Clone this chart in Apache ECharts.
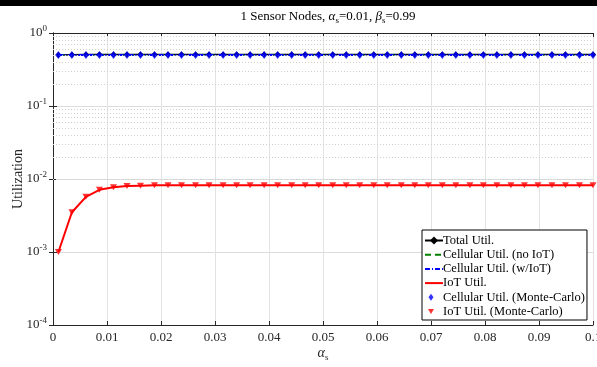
<!DOCTYPE html>
<html>
<head>
<meta charset="utf-8">
<script src="https://cdn.jsdelivr.net/npm/echarts@6/dist/echarts.min.js"></script>
<style>
  html, body { margin: 0; padding: 0; background: #fff; }
  #chart { width: 597px; height: 367px; }
</style>
</head>
<body>
<div id="chart"></div>
<script>
// alpha_s sample points (40 points from 0.001 to 0.1)
var alphaS = [0.0010, 0.0035, 0.0061, 0.0086, 0.0112, 0.0137, 0.0162, 0.0188, 0.0213, 0.0238,
              0.0264, 0.0289, 0.0315, 0.0340, 0.0365, 0.0391, 0.0416, 0.0442, 0.0467, 0.0492,
              0.0518, 0.0543, 0.0568, 0.0594, 0.0619, 0.0645, 0.0670, 0.0695, 0.0721, 0.0746,
              0.0772, 0.0797, 0.0822, 0.0848, 0.0873, 0.0898, 0.0924, 0.0949, 0.0975, 0.1000];
var iotUtil = [0.0010, 0.0035, 0.0057, 0.0071, 0.0077, 0.0080, 0.0081, 0.0082, 0.0082, 0.0082,
               0.0082, 0.0082, 0.0082, 0.0082, 0.0082, 0.0082, 0.0082, 0.0082, 0.0082, 0.0082,
               0.0082, 0.0082, 0.0082, 0.0082, 0.0082, 0.0082, 0.0082, 0.0082, 0.0082, 0.0082,
               0.0082, 0.0082, 0.0082, 0.0082, 0.0082, 0.0082, 0.0082, 0.0082, 0.0082, 0.0082];
var cellUtil = [0.50, 0.50, 0.50, 0.50, 0.50, 0.50, 0.50, 0.50, 0.50, 0.50,
                0.50, 0.50, 0.50, 0.50, 0.50, 0.50, 0.50, 0.50, 0.50, 0.50,
                0.50, 0.50, 0.50, 0.50, 0.50, 0.50, 0.50, 0.50, 0.50, 0.50,
                0.50, 0.50, 0.50, 0.50, 0.50, 0.50, 0.50, 0.50, 0.50, 0.50];
var totalUtil = [0.501, 0.504, 0.506, 0.507, 0.508, 0.508, 0.508, 0.508, 0.508, 0.508,
                 0.508, 0.508, 0.508, 0.508, 0.508, 0.508, 0.508, 0.508, 0.508, 0.508,
                 0.508, 0.508, 0.508, 0.508, 0.508, 0.508, 0.508, 0.508, 0.508, 0.508,
                 0.508, 0.508, 0.508, 0.508, 0.508, 0.508, 0.508, 0.508, 0.508, 0.508];
var minorGrid = [2e-4, 3e-4, 4e-4, 5e-4, 6e-4, 7e-4, 8e-4, 9e-4,
                 2e-3, 3e-3, 4e-3, 5e-3, 6e-3, 7e-3, 8e-3, 9e-3,
                 2e-2, 3e-2, 4e-2, 5e-2, 6e-2, 7e-2, 8e-2, 9e-2,
                 2e-1, 3e-1, 4e-1, 5e-1, 6e-1, 7e-1, 8e-1, 9e-1];

var serif = "'Liberation Serif', 'Times New Roman', serif";
var axisCol = '#262626';
// small centred markers inside a legend-sized box
var legDiamond = 'path://M0 0M18 10M6 1.5L8.5 5L6 8.5L3.5 5Z';
var legTriangle = 'path://M0 0M18 10M3 2.5L9 2.5L6 7.5Z';

function pairs(ys) {
    var out = [];
    for (var i = 0; i < alphaS.length; i++) out.push([alphaS[i], ys[i]]);
    return out;
}

var minorLines = minorGrid.map(function (v) { return { yAxis: v }; });

var chart = echarts.init(document.getElementById('chart'));
var option = {
    backgroundColor: '#fff',
    animation: false,
    textStyle: { fontFamily: serif },
    title: {
        text: '{n|1 Sensor Nodes, }{g|α}{sub|s}{n|=0.01, }{g|β}{sub|s}{n|=0.99}',
        left: 323, top: 3, textAlign: 'center',
        textStyle: {
            fontWeight: 'normal',
            rich: {
                n: { fontFamily: serif, fontSize: 13, fontWeight: 'normal', color: '#000' },
                g: { fontFamily: serif, fontSize: 13, fontWeight: 'normal', fontStyle: 'italic', color: '#000' },
                sub: { fontFamily: serif, fontSize: 9, fontWeight: 'normal', color: '#000', padding: [8, 0, 0, 0] }
            }
        }
    },
    graphic: [
        { type: 'rect', shape: { x: 0, y: 0, width: 597, height: 6 }, style: { fill: '#000' } }
    ],
    legend: {
        data: [
            { name: 'Total Util.' },
            { name: 'Cellular Util. (no IoT)', itemStyle: { opacity: 0 } },
            { name: 'Cellular Util. (w/IoT)', itemStyle: { opacity: 0 } },
            { name: 'IoT Util.', itemStyle: { opacity: 0 } },
            { name: 'Cellular Util. (Monte-Carlo)', icon: legDiamond },
            { name: 'IoT Util. (Monte-Carlo)', icon: legTriangle }
        ],
        orient: 'vertical',
        left: 422, top: 230,
        backgroundColor: '#fff',
        borderColor: '#000', borderWidth: 1, borderRadius: 0,
        padding: [4, 2, 2, 2],
        itemGap: 1.2,
        itemWidth: 18, itemHeight: 10,
        textStyle: { fontFamily: serif, fontSize: 12.5, color: '#000', padding: [0, 0, 0, -5] }
    },
    grid: { left: 53, right: 4, top: 33, bottom: 42, containLabel: false, outerBoundsMode: 'none' },
    xAxis: [{
        type: 'value', min: 0, max: 0.1, interval: 0.01,
        name: '{g|α}{sub|s}', nameLocation: 'middle', nameGap: 19, nameMoveOverlap: false,
        nameTextStyle: {
            rich: {
                g: { fontFamily: serif, fontSize: 14, fontStyle: 'italic', color: '#262626' },
                sub: { fontFamily: serif, fontSize: 9, color: '#262626', padding: [9, 0, 0, 0] }
            }
        },
        axisLine: { lineStyle: { color: axisCol, width: 1 } },
        axisTick: { inside: true, length: 4, lineStyle: { color: axisCol } },
        axisLabel: {
            fontFamily: serif, fontSize: 13, color: '#262626', margin: 6,
            showMaxLabel: true, hideOverlap: false,
            formatter: function (v) { return v === 0 ? '0' : (+v.toFixed(2)).toString(); }
        },
        splitLine: { show: true, lineStyle: { color: '#e3e3e3', width: 1 } }
    }, {
        type: 'value', min: 0, max: 0.1, interval: 0.01, position: 'top',
        axisLine: { lineStyle: { color: axisCol, width: 1 } },
        axisTick: { inside: true, length: 4, lineStyle: { color: axisCol } },
        axisLabel: { show: false },
        splitLine: { show: false }
    }],
    yAxis: [{
        type: 'log', logBase: 10, min: 1e-4, max: 1,
        name: 'Utilization', nameLocation: 'middle', nameGap: 28, nameMoveOverlap: false,
        nameTextStyle: { fontFamily: serif, fontSize: 14, color: '#262626' },
        axisLine: { show: true, lineStyle: { color: axisCol, width: 1 } },
        axisTick: { inside: true, length: 4, lineStyle: { color: axisCol } },
        axisLabel: {
            margin: 6,
            formatter: function (v) {
                var e = Math.round(Math.log10(v));
                return '{b|10}{s|' + e + '}';
            },
            rich: {
                b: { fontFamily: serif, fontSize: 13, color: '#262626' },
                s: { fontFamily: serif, fontSize: 9, color: '#262626', padding: [0, 0, 8, 0] }
            }
        },
        splitLine: { show: true, lineStyle: { color: '#dcdcdc', width: 1 } }
    }, {
        type: 'log', logBase: 10, min: 1e-4, max: 1, position: 'right',
        axisLine: { show: true, lineStyle: { color: axisCol, width: 1 } },
        axisTick: { inside: true, length: 4, lineStyle: { color: axisCol } },
        axisLabel: { show: false },
        splitLine: { show: false }
    }],
    series: [{
        name: 'Total Util.', type: 'line', data: pairs(totalUtil),
        symbol: 'diamond', symbolSize: 6,
        itemStyle: { color: '#000' },
        lineStyle: { color: '#000', width: 1.5 },
        markLine: {
            silent: true, symbol: 'none', label: { show: false },
            lineStyle: { color: '#d0d0d0', type: [1, 2], width: 1 },
            data: minorLines
        },
        z: 2
    }, {
        name: 'Cellular Util. (no IoT)', type: 'line', data: pairs(cellUtil),
        symbol: 'none', itemStyle: { color: '#008000' },
        lineStyle: { color: '#008000', width: 1.5, type: [6, 4] }, z: 3
    }, {
        name: 'Cellular Util. (w/IoT)', type: 'line', data: pairs(cellUtil),
        symbol: 'none', itemStyle: { color: '#0000ff' },
        lineStyle: { color: '#0000ff', width: 2, type: [5, 2, 1, 2] }, z: 4
    }, {
        name: 'IoT Util.', type: 'line', data: pairs(iotUtil),
        symbol: 'none', itemStyle: { color: '#ff0000' },
        lineStyle: { color: '#ff0000', width: 2 }, z: 4
    }, {
        name: 'Cellular Util. (Monte-Carlo)', type: 'scatter', data: pairs(cellUtil),
        symbol: 'diamond', symbolSize: [6, 8],
        itemStyle: { color: '#0000ff' }, z: 5
    }, {
        name: 'IoT Util. (Monte-Carlo)', type: 'scatter', data: pairs(iotUtil),
        symbol: 'triangle', symbolRotate: 180, symbolSize: [7, 6],
        itemStyle: { color: '#ff0000' }, z: 5
    }]
};
chart.setOption(option);
</script>
</body>
</html>
